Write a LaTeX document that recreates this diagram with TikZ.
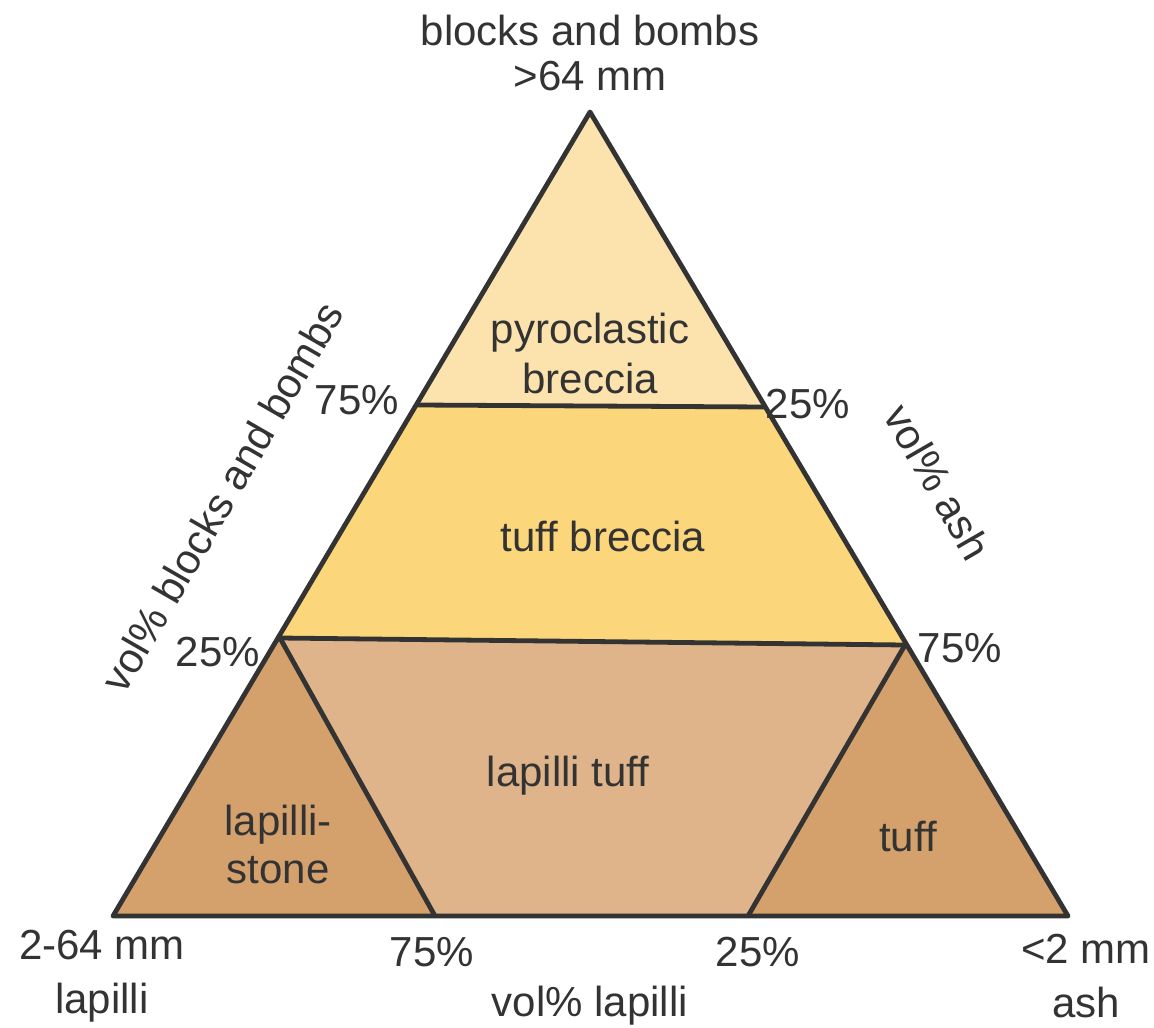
\documentclass[tikz,border=0pt]{standalone}
\usepackage{fontspec}
\setmainfont{Liberation Sans}
\definecolor{ink}{HTML}{333333}
\definecolor{cPyro}{HTML}{FCE3AE}
\definecolor{cBrec}{HTML}{FCD67A}
\definecolor{cLapT}{HTML}{DFB48A}
\definecolor{cCorner}{HTML}{D4A06C}
\begin{document}
\begin{tikzpicture}[x=0.5pt,y=-0.5pt,
  edge/.style={draw=ink,line width=2.4pt,line join=round},
  lbl/.style={text=ink,font=\fontsize{21}{23}\selectfont,inner sep=0pt,align=center},
  fieldlbl/.style={lbl}]
\useasboundingbox (0,0) rectangle (1154,1027);
% vertices
\coordinate (A) at (590,112);
\coordinate (L) at (113,916);
\coordinate (R) at (1068,916);
\coordinate (p75l) at (418,405);
\coordinate (p25r) at (765,407);
\coordinate (p25l) at (280,638);
\coordinate (p75r) at (905,645);
\coordinate (b75) at (435,916);
\coordinate (b25) at (748,916);
% fills
\fill[cPyro] (A) -- (p25r) -- (p75l) -- cycle;
\fill[cBrec] (p75l) -- (p25r) -- (p75r) -- (p25l) -- cycle;
\fill[cLapT] (p25l) -- (p75r) -- (b25) -- (b75) -- cycle;
\fill[cCorner] (p25l) -- (b75) -- (L) -- cycle;
\fill[cCorner] (p75r) -- (R) -- (b25) -- cycle;
% lines
\draw[edge] (p75l) -- (p25r);
\draw[edge] (p25l) -- (p75r);
\draw[edge] (p25l) -- (b75);
\draw[edge] (p75r) -- (b25);
\draw[edge] (A) -- (L) -- (R) -- cycle;
% labels
\node[lbl] (top1) at (590,30) {blocks and bombs};
\node[lbl] (top2) at (590,76) {>64 mm};
\node[fieldlbl] (pyro) at (590,353) {pyroclastic\\[2pt]breccia};
\node[fieldlbl] (brec) at (603,536) {tuff breccia};
\node[fieldlbl] (lapt) at (568,776) {lapilli tuff};
\node[fieldlbl] (lapst) at (278,844) {lapilli-\\[1pt]stone};
\node[fieldlbl] (tuff) at (908,836) {tuff};
\node[lbl] (l75) at (357,400) {75\%};
\node[lbl] (r25) at (808,404) {25\%};
\node[lbl] (l25) at (218,652) {25\%};
\node[lbl] (r75) at (960,648) {75\%};
\node[lbl,rotate=60] (axl) at (222,497) {vol\% blocks and bombs};
\node[lbl,rotate=-60] (axr) at (938,482) {vol\% ash};
\node[lbl] (cl) at (102,976) {2-64 mm\\[4pt]lapilli};
\node[lbl] (b75t) at (432,952) {75\%};
\node[lbl] (b25t) at (758,952) {25\%};
\node[lbl] (cr) at (1086,976) {<2 mm\\[4pt]ash};
\node[lbl] (axb) at (590,1006) {vol\% lapilli};
\end{tikzpicture}
\end{document}
